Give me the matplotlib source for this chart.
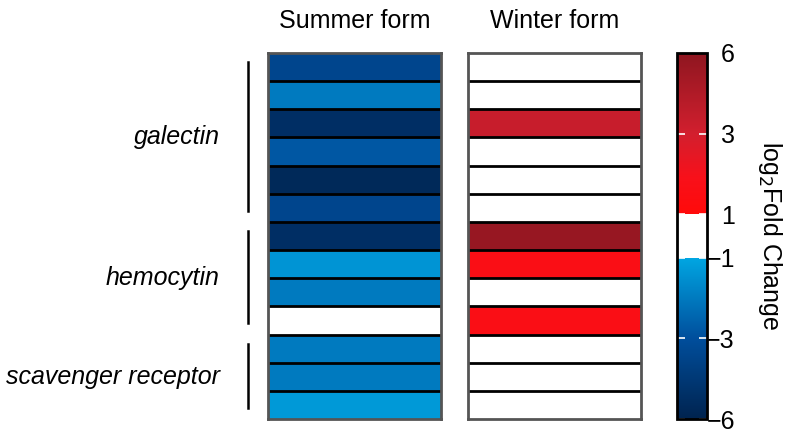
import matplotlib
matplotlib.use("Agg")
import matplotlib.pyplot as plt
import numpy as np
from matplotlib.colors import FuncNorm, LinearSegmentedColormap

plt.rcParams["font.family"] = ["Liberation Sans", "DejaVu Sans"]
plt.rcParams["font.size"] = 18

COLUMNS = ["Summer form", "Winter form"]
summer = [-3.6, -2.0, -5.2, -2.8, -5.6, -3.6, -5.2, -1.4, -2.0, 0.0, -2.0, -2.0, -1.3]
winter = [0.0, 0.0, 3.5, 0.0, 0.0, 0.0, 5.6, 1.6, 0.0, 1.6, 0.0, 0.0, 0.0]

GROUPS = ["galectin", "hemocytin", "scavenger receptor"]
group_rows = [(0, 6), (6, 10), (10, 13)]

CBAR_TICKS = [-6, -3, -1, 1, 3, 6]
CBAR_POS = [0.0, 0.22, 0.44, 0.56, 0.78, 1.0]


def forward(x):
    return np.interp(x, CBAR_TICKS, CBAR_POS)


def inverse(y):
    return np.interp(y, CBAR_POS, CBAR_TICKS)


cmap = LinearSegmentedColormap.from_list(
    "fold",
    [
        (0.0, "#00234f"),
        (0.22, "#004e9c"),
        (0.44, "#00a6e2"),
        (0.4401, "#ffffff"),
        (0.5599, "#ffffff"),
        (0.56, "#ff0a0a"),
        (0.66, "#f8101a"),
        (0.78, "#d21f2e"),
        (1.0, "#8e1620"),
    ],
    N=1024,
)
norm = FuncNorm((forward, inverse), vmin=-6, vmax=6)

fig = plt.figure(figsize=(7.94, 4.36), dpi=100)
W, H = 794, 436
top, bottom = 53, 419
axes_h = (bottom - top) / H
ax_left = fig.add_axes([268 / W, 1 - bottom / H, 173 / W, axes_h])
ax_right = fig.add_axes([468 / W, 1 - bottom / H, 173 / W, axes_h])
cax = fig.add_axes([677 / W, 1 - bottom / H, 30 / W, axes_h])

n = len(summer)
edges_y = np.arange(n + 1)
mesh = None
for ax, vals, title in zip([ax_left, ax_right], [summer, winter], COLUMNS):
    data = np.array(vals).reshape(-1, 1)
    mesh = ax.pcolormesh([0, 1], edges_y, data, cmap=cmap, norm=norm)
    ax.set_xlim(0, 1)
    ax.set_ylim(n, 0)
    for yy in edges_y[1:-1]:
        ax.axhline(yy, color="black", lw=2)
    ax.set_xticks([])
    ax.set_yticks([])
    for sp in ax.spines.values():
        sp.set_color("#555555")
        sp.set_linewidth(2)
    ax.annotate(title, xy=(0.5, 1), xycoords="axes fraction", xytext=(0, 18),
                textcoords="offset points", ha="center", va="baseline")

# group labels and brackets
for name, (r0, r1) in zip(GROUPS, group_rows):
    ax_left.plot([-0.115, -0.115], [r0 + 0.32, r1 - 0.4], color="black", lw=1.8,
                 clip_on=False, transform=ax_left.get_yaxis_transform())
    ax_left.text(-0.28, (r0 + r1) / 2, name, ha="right", va="center", style="italic",
                 transform=ax_left.get_yaxis_transform())

cb = fig.colorbar(mesh, cax=cax, ticks=CBAR_TICKS)
cb.ax.set_yticklabels(["\u22126", "\u22123", "\u22121", "1", "3", "6"], ha="right")
cb.outline.set_linewidth(2)
cb.outline.set_edgecolor("black")
cb.ax.tick_params(axis="y", direction="in", length=6, width=1.2, color="white",
                  left=True, right=True, pad=20, labelsize=18)
cb.set_label("log$_2$Fold Change", rotation=270, ha="center", va="center")
cb.ax.yaxis.set_label_coords(3.1, 0.5)

fig.savefig("out.png", dpi=100)
